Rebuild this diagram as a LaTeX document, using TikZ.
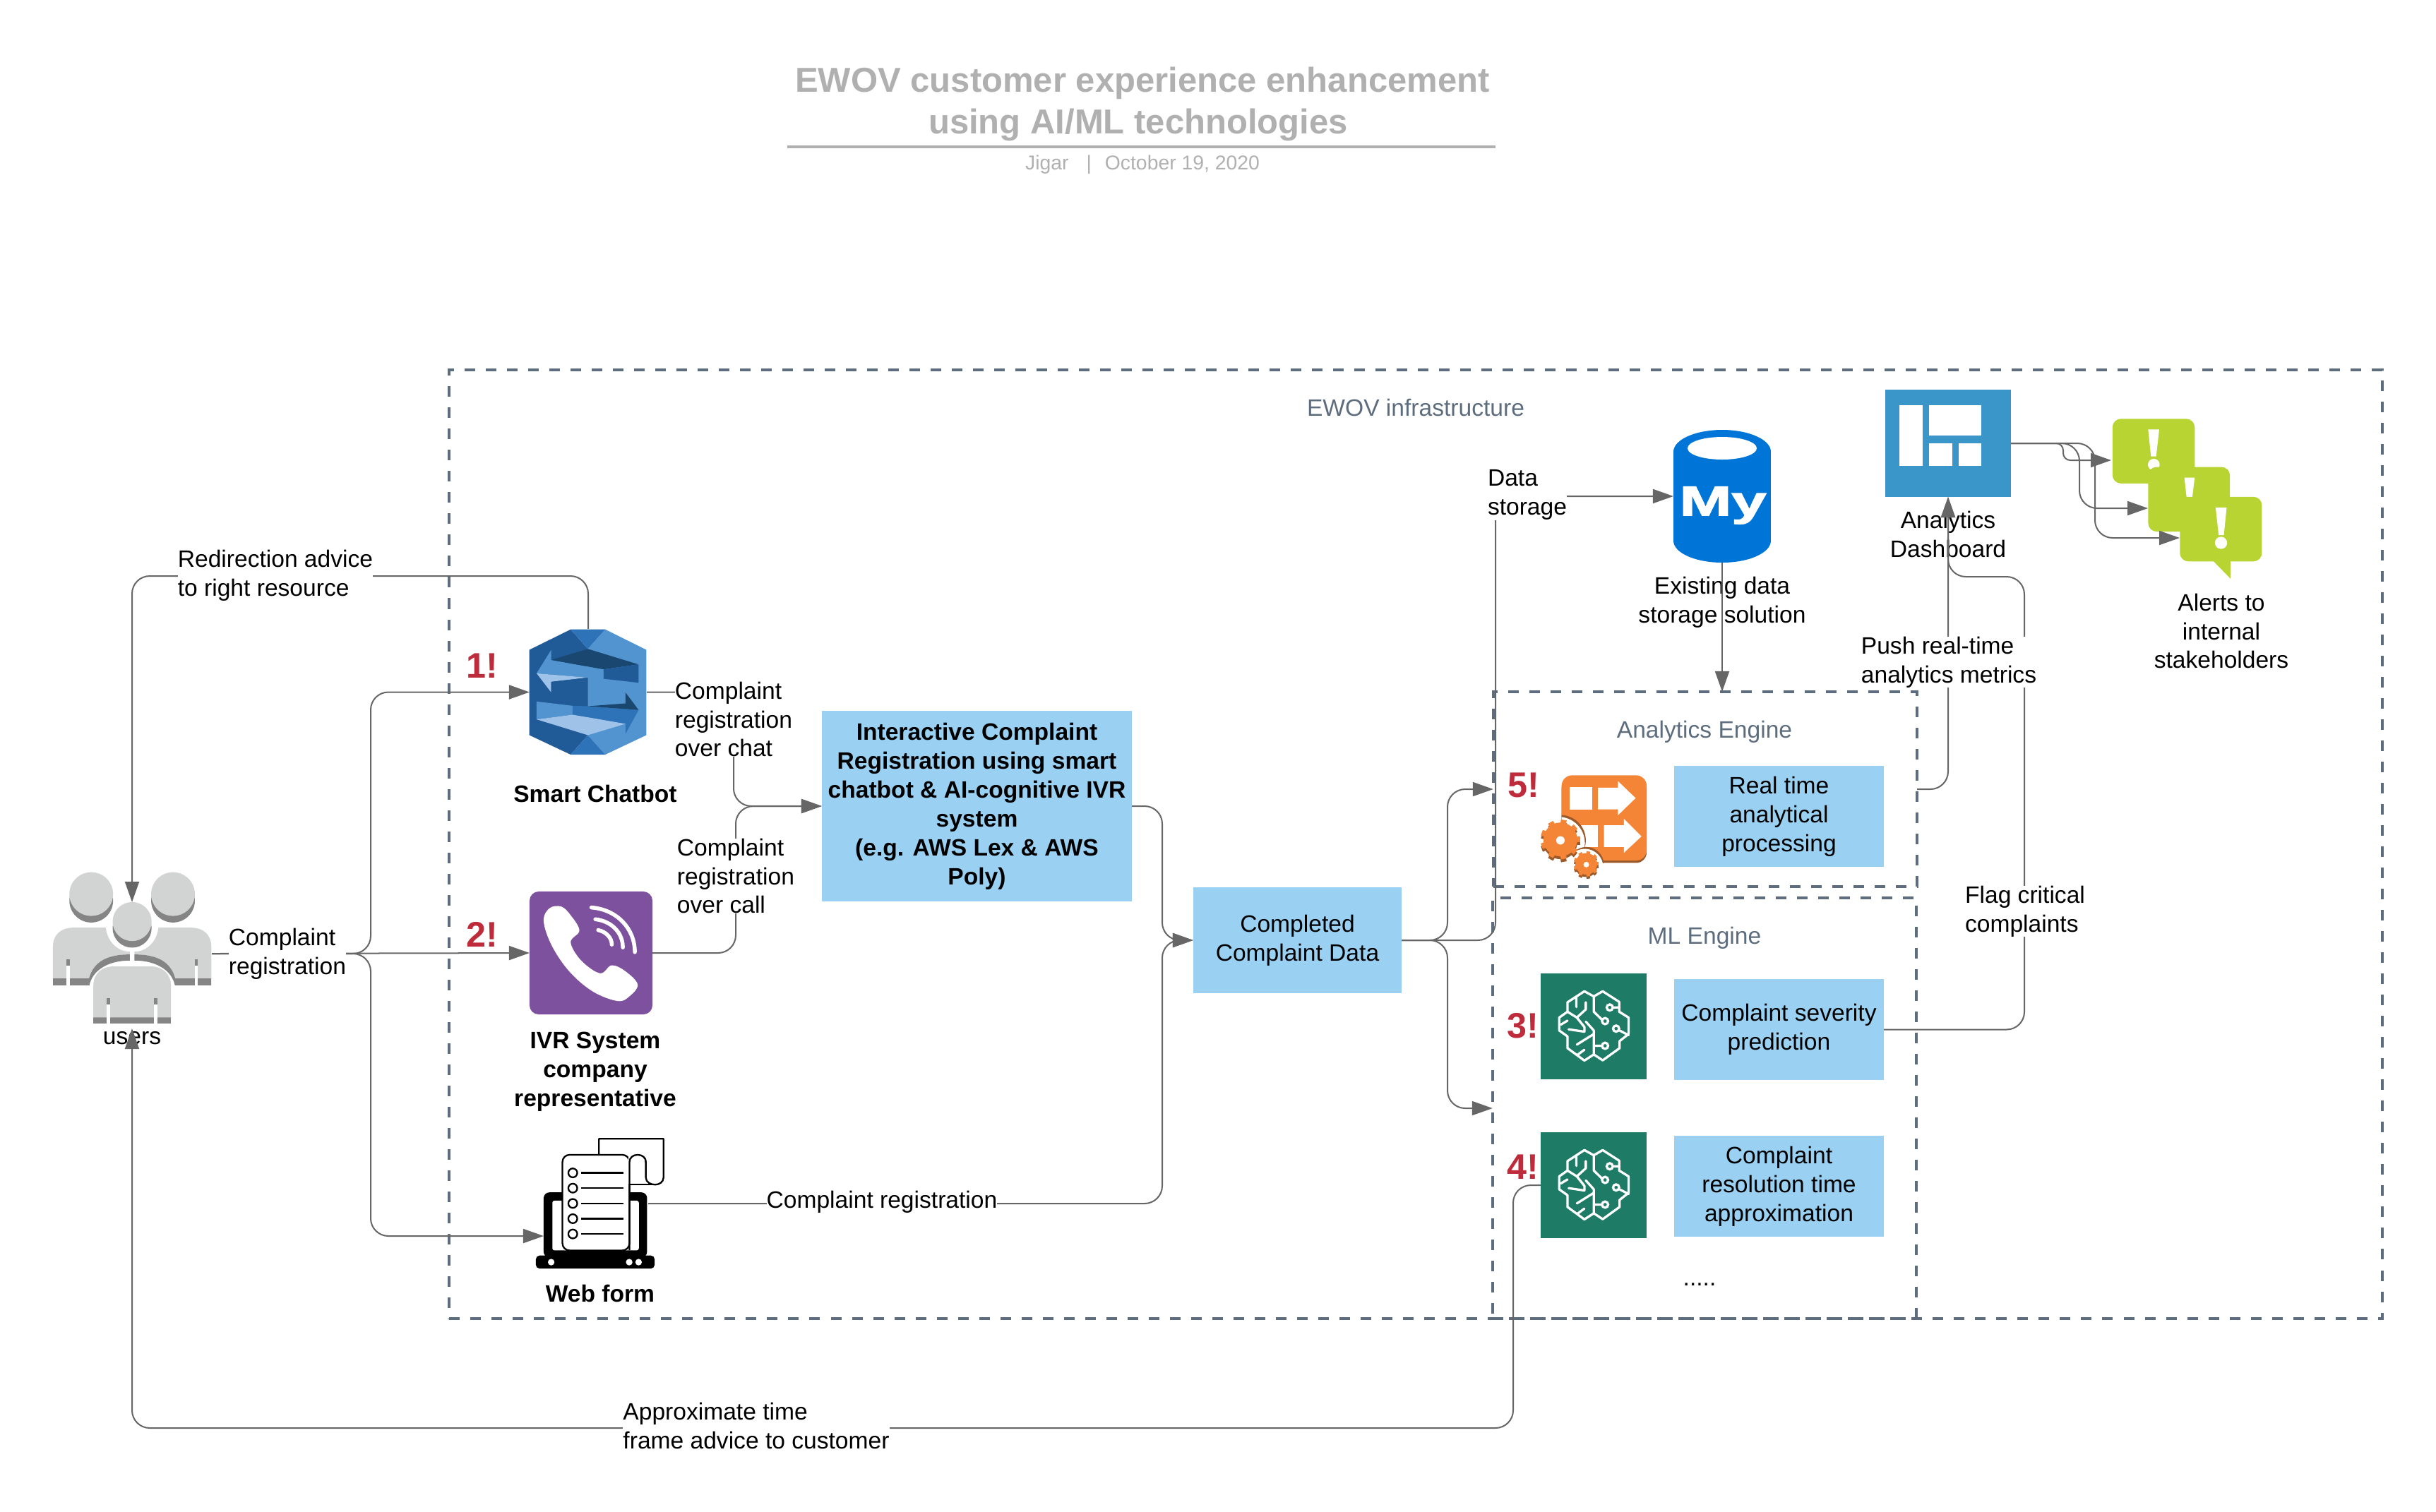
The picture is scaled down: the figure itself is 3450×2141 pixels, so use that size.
\documentclass[tikz,border=0pt]{standalone}
\usepackage{graphicx}
\usepackage{fontspec}
\setmainfont{Liberation Sans}
\newfontfamily\mylogofont[BoldFeatures={FakeBold=2}]{Liberation Sans}
\definecolor{ewovslate}{RGB}{93,109,126}
\definecolor{ewovgray}{RGB}{102,102,102}
\definecolor{ewovtitle}{RGB}{176,176,176}
\definecolor{ewovblue}{RGB}{154,209,243}
\definecolor{ewovred}{RGB}{190,43,59}
\definecolor{ewovteal}{RGB}{30,123,102}
\definecolor{ewovpurple}{RGB}{125,81,157}
\definecolor{ewovdash}{RGB}{58,150,200}
\definecolor{ewovmy}{RGB}{0,117,216}
\definecolor{ewovlime}{RGB}{184,212,50}
\definecolor{ewovorange}{RGB}{245,133,54}
\definecolor{ewovrust}{RGB}{156,90,43}
\definecolor{userlight}{RGB}{210,211,211}
\definecolor{userdark}{RGB}{133,133,133}
\definecolor{lexdark}{RGB}{32,91,152}
\definecolor{lexmid}{RGB}{46,115,184}
\definecolor{lexlight}{RGB}{82,148,207}
\definecolor{lexpale}{RGB}{159,194,232}
\definecolor{lexnavy}{RGB}{26,71,111}
\usetikzlibrary{arrows.meta,positioning,calc}

\newcommand{\gearart}[5]{%
  \fill[#5] (#1,#2) circle[radius=#3];
  \foreach \ang in {0,40,...,320}
    \fill[#5,shift={(#1,#2)},rotate=\ang] (#3-3,-#3*0.17) rectangle (#3*1.17,#3*0.17);
}

\begin{document}
\begin{tikzpicture}[
    x=0.01cm, y=-0.01cm,
    icon/.style={x=0.0033333cm, y=-0.0033333cm},
    lbl/.style={align=left, inner sep=0pt, font=\fontsize{9.55}{11.65}\selectfont},
    lblc/.style={lbl, align=center},
    lblw/.style={lbl, fill=white},
    lblb/.style={lblc, font=\fontsize{9.55}{11.65}\selectfont\bfseries},
    num/.style={inner sep=0pt, font=\fontsize{14.3}{16}\selectfont\bfseries, text=ewovred},
    zone/.style={rectangle, draw=ewovslate, line width=0.04cm, outer sep=0pt,
                 dash pattern=on 0.15cm off 0.15cm},
    zonelbl/.style={inner sep=0pt, font=\fontsize{9.55}{11.65}\selectfont, text=ewovslate},
    stepbox/.style={rectangle, fill=ewovblue, align=center, inner sep=0pt, outer sep=0pt,
                    font=\fontsize{9.55}{11.65}\selectfont},
    iconnode/.style={rectangle, inner sep=0pt, outer sep=0pt},
    conn/.style={draw=ewovgray, line width=0.02cm, rounded corners=0.25cm},
    arr/.style={conn, -{Triangle[length=0.29cm,width=0.2cm]}},
    brainart/.pic={
      \draw[white, line width=0.033cm, line join=round, line cap=round]
        (262,125) -- (222,103) -- (150,150) -- (150,190) -- (115,215) -- (115,270) -- (150,295)
        -- (150,345) -- (222,398) -- (262,372) -- (300,397) -- (372,345) -- (372,315) -- (410,285)
        -- (410,215) -- (370,190) -- (370,148) -- (300,103) -- (262,125)
        (262,125) -- (262,190) -- (298,225)
        (262,372) -- (262,270) -- (228,232)
        (188,128) -- (188,170)
        (150,190) -- (190,215) -- (228,180) -- (228,150)
        (122,245) -- (150,228)
        (190,215) -- (222,255) -- (222,275) -- (155,265)
        (190,330) -- (262,285)
        (195,372) -- (222,352)
        (345,172) -- (370,172)
        (372,270) -- (410,290)
        (296,335) -- (262,335);
      \foreach \px/\py in {330/172, 310/230, 357/262, 310/335}
        \draw[white, line width=0.033cm] (\px,\py) circle[radius=13];
    }
  ]
    \useasboundingbox (0,0) rectangle (3450,2141);

    % Title
    \node[inner sep=0pt, align=center, text=ewovtitle, font=\fontsize{13.94}{16.8}\selectfont\bfseries]
      (title) at (1618,147) {EWOV customer experience enhancement\\using AI/ML technologies\hspace*{0.12cm}};
    \draw[ewovtitle, line width=0.04cm] (1115,208) -- (2118,208);
    \node[inner sep=0pt, text=ewovtitle, font=\fontsize{8.06}{10}\selectfont]
      (byline) at (1618,233) {Jigar\hspace{0.25cm}|\hspace{0.19cm}October 19, 2020};

    % Frames
    \node[zone, minimum width=27.36cm, minimum height=13.44cm] (ewov) at (2005,1196) {};
    \node[zone, minimum width=6cm, minimum height=2.76cm]  (analyticsframe) at (2415,1118) {};
    \node[zone, minimum width=6cm, minimum height=5.96cm]  (mlframe) at (2414,1570) {};
    \node[zonelbl] (ewovlbl) at (2005,577) {EWOV infrastructure};
    \node[zonelbl] (analyticslbl) at (2414,1037) {Analytics Engine};
    \node[zonelbl] (mllbl) at (2414,1329) {ML Engine};

    % Boxes
    \node[stepbox, minimum width=4.39cm, minimum height=2.7cm, font=\fontsize{9.55}{11.65}\selectfont\bfseries]
      (mainbox) at (1383.5,1142) {Interactive Complaint\\Registration using smart\\chatbot \& AI-cognitive IVR\\system\\(e.g. AWS Lex \& AWS\\Poly)};
    \node[stepbox, minimum width=2.95cm, minimum height=1.49cm] (completed) at (1837.5,1332) {Completed\\Complaint Data};
    \node[stepbox, minimum width=2.97cm, minimum height=1.43cm] (realtime) at (2519.5,1156.5) {Real time\\analytical\\processing};
    \node[stepbox, minimum width=2.97cm, minimum height=1.43cm] (severity) at (2519.5,1458.5) {Complaint severity\\prediction};
    \node[stepbox, minimum width=2.97cm, minimum height=1.43cm] (resolution) at (2519.5,1680.5) {Complaint\\resolution time\\approximation};
    \node[lbl] (moredots) at (2407,1820) {.....};

    % Users
    \node[iconnode, minimum width=2.24cm, minimum height=2.15cm] (users) at (187,1343.5) {};
    \coordinate (usertop) at (187,1278);
    \coordinate (userbottom) at (187,1457);
    \coordinate (usersright) at (300,1351);
    \begin{scope}[shift={(60,1220)}, icon]
      \foreach \sx in {1,-1} {
        \begin{scope}[shift={(382,0)}, xscale=\sx]
          \fill[userdark] (-174,168) circle[radius=93];
          \fill[userlight] (-174,140) circle[radius=93];
          \fill[userlight] (-337,528) -- (-337,365) .. controls (-337,310) and (-300,283) .. (-252,283)
            -- (-112,283) .. controls (-105,345) and (-60,385) .. (-10,385) -- (-10,397)
            .. controls (-110,397) and (-160,430) .. (-182,490) -- (-182,528) -- cycle;
          \fill[userdark] (-10,397) .. controls (-110,397) and (-165,430) .. (-184,500) -- (-182,528)
            .. controls (-170,470) and (-110,423) .. (-10,423) -- cycle;
          \fill[userdark] (-337,500) rectangle (-182,528);
          \fill[white] (-280,445) rectangle (-266,528);
          \fill[userdark] (-280,418) rectangle (-266,445);
          \fill[userdark] (-165,665) rectangle (0,692);
          \fill[userlight] (-165,665) -- (-165,530) .. controls (-165,480) and (-130,448) .. (-80,448)
            -- (0,448) -- (0,665) -- cycle;
          \fill[white] (-108,610) rectangle (-94,692);
          \fill[userdark] (-108,582) rectangle (-94,610);
        \end{scope}
      }
      \fill[userdark] (382,285) circle[radius=83];
      \fill[userlight] (382,257) circle[radius=83];
    \end{scope}
    \node[lblc] (userslbl) at (187,1471) {users};

    % Smart chatbot
    \node[iconnode, minimum width=1.66cm, minimum height=1.79cm] (chatbot) at (833,980.5) {};
    \begin{scope}[shift={(740,880)}, icon]
      \fill[lexdark] (205,35) -- (278,118) -- (278,485) -- (205,568) -- (29,485) -- (29,122) -- cycle;
      \fill[lexlight] (352,35) -- (278,118) -- (278,485) -- (352,568) -- (527,485) -- (527,122) -- cycle;
      \fill[lexmid] (205,35) -- (352,35) -- (278,118) -- cycle;
      \fill[lexmid] (205,568) -- (352,568) -- (278,485) -- cycle;
      \fill[lexlight] (60,222) -- (122,122) -- (122,165) -- (345,205) -- (345,245) -- (278,240) -- cycle;
      \fill[lexnavy] (122,165) -- (278,118) -- (494,184) -- (345,205) -- cycle;
      \fill[lexdark] (345,205) -- (494,184) -- (494,262) -- (345,245) -- cycle;
      \fill[lexpale] (60,222) -- (278,240) -- (122,258) -- (122,303) -- cycle;
      \fill[lexdark] (122,258) -- (278,240) -- (278,362) -- (122,340) -- cycle;
      \fill[lexlight] (60,342) -- (213,360) -- (213,398) -- (60,418) -- cycle;
      \fill[lexmid] (213,360) -- (278,362) -- (494,378) -- (438,480) -- (438,437) -- (213,398) -- cycle;
      \fill[lexnavy] (278,362) -- (438,350) -- (438,303) -- (494,378) -- cycle;
      \fill[lexpale] (60,418) -- (213,398) -- (438,437) -- (278,485) -- cycle;
    \end{scope}
    \node[lblb] (chatbotlbl) at (843,1124) {Smart Chatbot};
    \node[num] (numone) at (683,943) {1!};

    % IVR
    \node[iconnode, fill=ewovpurple, rounded corners=0.13cm, minimum width=1.74cm, minimum height=1.74cm] (viber) at (837,1350) {};
    \begin{scope}[shift={(740,1255)}, icon]
      \fill[white] plot[smooth cycle, tension=0.6] coordinates {(90,150) (115,95) (165,88) (205,125)
        (242,190) (205,240) (250,318) (330,372) (380,338) (440,365) (490,420) (455,470) (405,490)
        (300,450) (200,365) (125,255)};
      \draw[white, line width=0.055cm, line cap=round]
        (293,92) .. controls (400,100) and (478,180) .. (478,282)
        (310,142) .. controls (380,150) and (427,200) .. (427,262)
        (322,188) .. controls (355,195) and (380,220) .. (380,250);
    \end{scope}
    \node[lblb] (viberlbl) at (843,1518) {IVR System\\company\\representative};
    \node[num] (numtwo) at (683,1324) {2!};

    % Web form
    \coordinate (webin) at (770,1751);
    \coordinate (webout) at (918,1705);
    \begin{scope}[shift={(750,1600)}, icon]
      \draw[black, line width=0.023cm, line join=round] (295,108) -- (295,40) -- (570,40) -- (570,205)
        .. controls (570,225) and (550,235) .. (535,235) .. controls (515,235) and (495,225) .. (495,205)
        -- (495,140) .. controls (495,120) and (480,108) .. (460,108);
      \fill[white] (500,110) -- (565,45) -- (300,45) -- (300,108) -- cycle;
      \draw[black, line width=0.023cm] (425,235) -- (535,235);
      \fill[black, rounded corners=0.08cm] (60,268) rectangle (500,545);
      \fill[white, rounded corners=0.03cm] (97,303) rectangle (465,515);
      \fill[black, rounded corners=0.05cm] (27,537) rectangle (532,592);
      \fill[white] (92,565) circle[radius=14] (424,565) circle[radius=14] (464,565) circle[radius=14];
      \filldraw[fill=white, draw=black, line width=0.023cm, rounded corners=0.1cm] (140,515) -- (140,108) -- (425,108) -- (425,515) -- cycle;
      \fill[white] (420,112) rectangle (490,230);
      \draw[black, line width=0.023cm] (425,515) -- (425,140) .. controls (425,120) and (440,108) .. (460,108)
        .. controls (480,108) and (495,120) .. (495,140) -- (495,205);
      \foreach \ry in {185,250,315,380,445} {
        \draw[black, line width=0.023cm] (184,\ry) circle[radius=19];
        \draw[black, line width=0.023cm] (220,\ry) -- (400,\ry);
      }
    \end{scope}
    \node[lblb] (weblbl) at (850,1832) {Web form};

    % MySQL
    \node[iconnode, minimum width=1.38cm, minimum height=1.88cm] (mysql) at (2439,703) {};
    \fill[ewovmy] (2439,640) ellipse[x radius=69, y radius=31];
    \fill[ewovmy] (2439,766) ellipse[x radius=69, y radius=31];
    \fill[ewovmy] (2370,640) rectangle (2508,766);
    \fill[white] (2439,635) ellipse[x radius=49, y radius=16];
    \node[inner sep=0pt, text=white, font=\fontsize{16.8}{18}\selectfont\mylogofont\bfseries] (mylogo) at (2440,716) {\scalebox{1.5}[1]{My}};
    \node[lblc] (mysqllbl) at (2439,853) {Existing data\\storage solution};

    % Dashboard
    \node[iconnode, fill=ewovdash, minimum width=1.78cm, minimum height=1.52cm] (dashboard) at (2759,628) {};
    \fill[white] (2690,574) rectangle (2723,660);
    \fill[white] (2732,574) rectangle (2806,617);
    \fill[white] (2732,628) rectangle (2765,660);
    \fill[white] (2774,628) rectangle (2806,660);
    \node[lblc] (dashboardlbl) at (2759,757) {Analytics\\Dashboard};

    % Alerts
    \coordinate (alertinone) at (2990,652);
    \coordinate (alertintwo) at (3042,720);
    \coordinate (alertinthree) at (3087,762);
    \begin{scope}[shift={(2840,580)}, icon]
      \fill[ewovlime, rounded corners=0.12cm] (456,40) rectangle (806,315);
      \fill[white] (608,85) -- (655,85) -- (642,200) -- (620,200) -- cycle;
      \fill[white] (632,235) circle[radius=25];
      \fill[ewovlime, rounded corners=0.12cm] (608,245) rectangle (956,520);
      \fill[white] (762,290) -- (806,290) -- (795,380) -- (772,380) -- cycle;
      \fill[ewovlime, rounded corners=0.12cm] (743,372) rectangle (1092,647);
      \fill[ewovlime] (880,640) -- (958,720) -- (958,640) -- cycle;
      \fill[white] (895,418) -- (942,418) -- (930,535) -- (908,535) -- cycle;
      \fill[white] (918,568) circle[radius=26];
    \end{scope}
    \node[lblc] (alertslbl) at (3146,894) {Alerts to\\internal\\stakeholders};

    % Orange processing icon
    \node[iconnode, minimum width=1.2cm, minimum height=1.2cm] (procicon) at (2275,1145) {};
    \begin{scope}[shift={(2170,1090)}, icon]
      \fill[ewovrust, rounded corners=0.15cm] (125,35) rectangle (487,398);
      \fill[ewovorange, rounded corners=0.15cm] (125,25) rectangle (487,388);
      \fill[white] (160,74) rectangle (255,170);
      \fill[white] (280,78) -- (365,78) -- (365,50) -- (440,122) -- (365,195) -- (365,170) -- (280,170) -- cycle;
      \fill[white] (200,238) rectangle (280,330);
      \fill[white] (305,238) -- (390,238) -- (390,210) -- (465,285) -- (390,355) -- (390,330) -- (305,330) -- cycle;
      \begin{scope}
        \clip (125,25) rectangle (487,398);
        \fill[ewovrust] (120,302) circle[radius=108];
        \fill[white] (112,314) circle[radius=112];
        \fill[ewovrust] (230,405) circle[radius=75];
        \fill[white] (224,416) circle[radius=78];
      \end{scope}
      \gearart{120}{310}{72}{0}{ewovrust}
      \gearart{120}{298}{72}{0}{ewovorange}
      \fill[white] (120,302) circle[radius=18];
      \gearart{230}{412}{46}{0}{ewovrust}
      \gearart{230}{402}{46}{0}{ewovorange}
      \fill[white] (230,405) circle[radius=12];
    \end{scope}
    \node[num] (numfive) at (2158,1112) {5!};

    % Brain icons
    \node[iconnode, fill=ewovteal, minimum width=1.5cm, minimum height=1.5cm] (brainsev) at (2257,1454) {};
    \node[iconnode, fill=ewovteal, minimum width=1.5cm, minimum height=1.5cm] (brainres) at (2257,1679) {};
    \begin{scope}[shift={(2170,1370)}, icon]
      \pic {brainart};
    \end{scope}
    \begin{scope}[shift={(2170,1595)}, icon]
      \pic {brainart};
    \end{scope}
    \node[num] (numthree) at (2157,1453) {3!};
    \node[num] (numfour) at (2157,1653) {4!};

    % Connectors
    \coordinate (advicecorner) at (833,816);
    \coordinate (splitreg) at (525,1351);
    \coordinate (chatdrop) at (1039,1142);
    \coordinate (calldrop) at (1042,1142);
    \coordinate (mergein) at (1646,1332);
    \coordinate (fork) at (2050,1332);
    \coordinate (datacorner) at (2118,703);
    \coordinate (flagtop) at (2867,817);
    \coordinate (approxlow) at (2143,2023);
    \coordinate (kneeone) at (2922,652);
    \coordinate (kneetwo) at (2945,720);
    \coordinate (kneethree) at (2967,762);

    \draw[arr] (chatbot.north) -- (advicecorner) -| (usertop);
    \draw[arr] (brainres.west) -| (approxlow) -| (userbottom);
    \draw[arr] (usersright) -- (splitreg) |- (chatbot.west);
    \draw[arr] (usersright) -- (viber.west);
    \draw[arr] (usersright) -- (splitreg) |- (webin);
    \draw[arr] (chatbot.east) -| (chatdrop) -- (mainbox.west);
    \draw[arr] (viber.east) -| (calldrop) -- (mainbox.west);
    \draw[arr] (mainbox.east) -| (mergein) -- (completed.west);
    \draw[arr] (webout) -| (mergein) -- (completed.west);
    \draw[arr] (completed.east) -- (fork) |- (analyticsframe.west);
    \draw[arr] (completed.east) -- (fork) |- (mlframe.west);
    \draw[arr] (completed.east) -| (datacorner) -- (mysql.west);
    \draw[arr] (mysql.south) -- (mysql.south |- analyticsframe.north);
    \draw[arr] (analyticsframe.east) -| (dashboard.south);
    \draw[arr] (severity.east) -| (flagtop) -| (dashboard.south);
    \draw[arr, rounded corners=0.1cm] (dashboard.east) -| (kneeone) -- (alertinone);
    \draw[arr] (dashboard.east) -| (kneetwo) -- (alertintwo);
    \draw[arr] (dashboard.east) -| (kneethree) -- (alertinthree);

    % Connector labels
    \node[lblw] (advicelbl) at (390,815) {Redirection advice\\to right resource};
    \node[lblw] (reglbl) at (407,1351) {Complaint\\registration};
    \node[lblw] (chatlbl) at (1039,1019) {Complaint\\registration\\over chat};
    \node[lblw] (calllbl) at (1042,1241) {Complaint\\registration\\over call};
    \node[lblw] (formlbl) at (1249,1703) {Complaint registration};
    \node[lblw] (approxlbl) at (1071,2020) {Approximate time\\frame advice to customer};
    \node[lblw] (datalbl) at (2163,701) {Data\\storage};
    \node[lblw] (pushlbl) at (2760,938) {Push real-time\\analytics metrics};
    \node[lblw] (flaglbl) at (2868,1291) {Flag critical\\complaints};
  \end{tikzpicture}
\end{document}
